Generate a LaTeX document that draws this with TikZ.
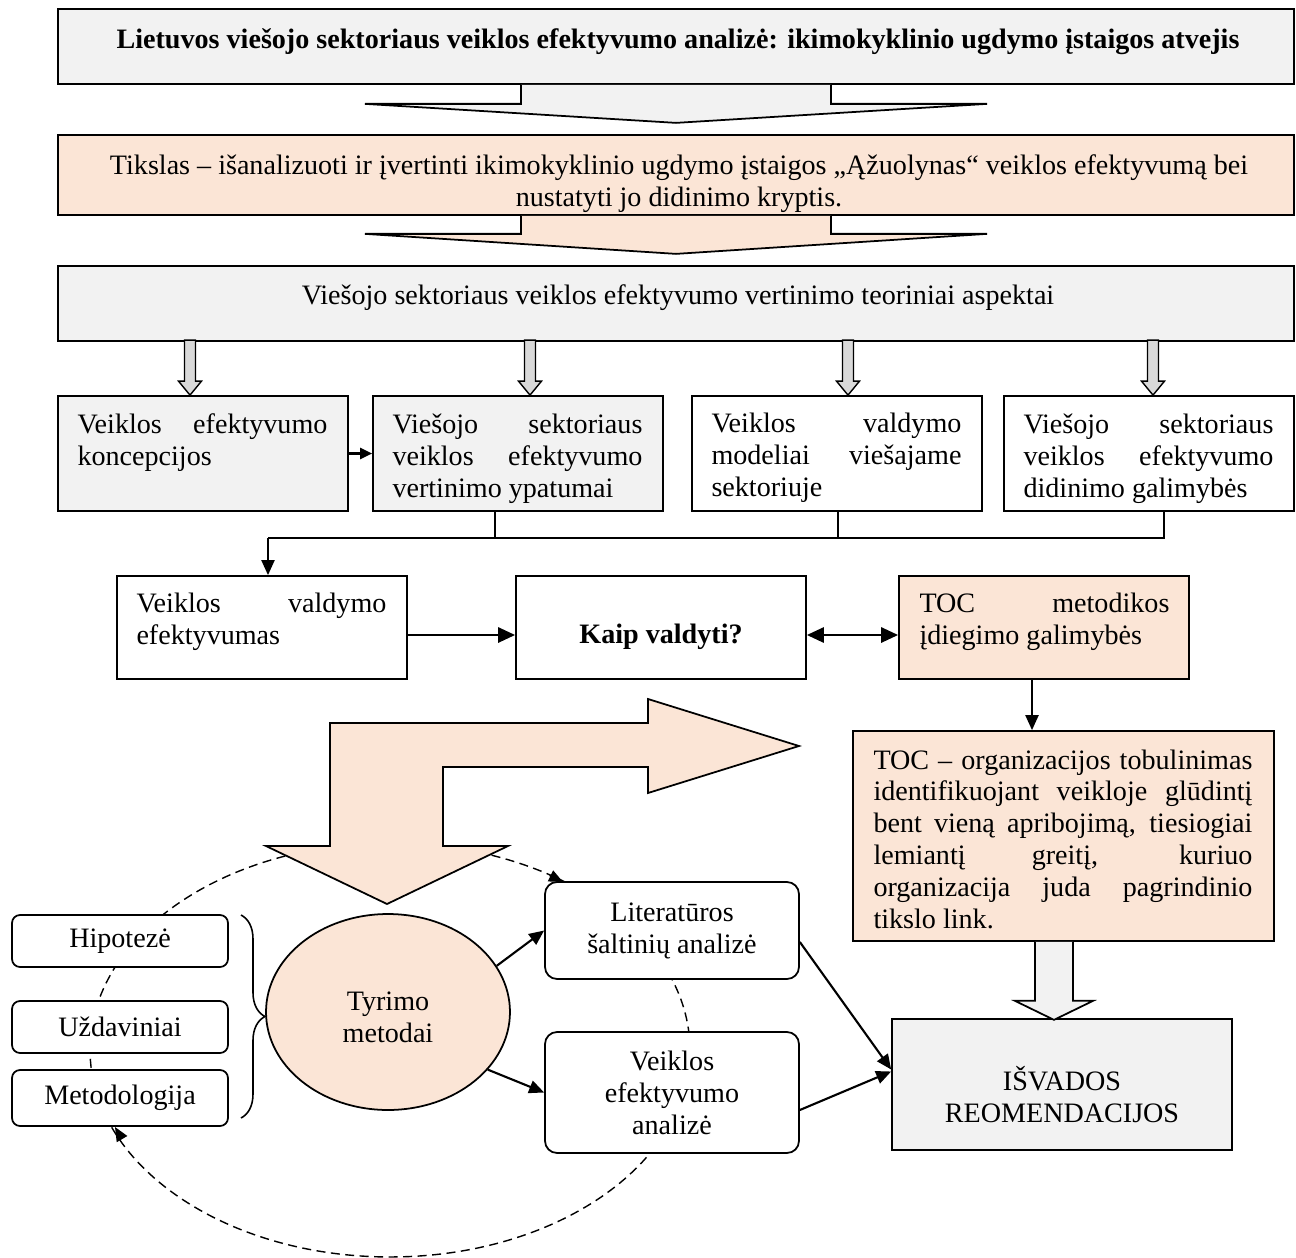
\documentclass[tikz,border=0pt]{standalone}
\usepackage{fontspec}
\setmainfont{Liberation Serif}
\usetikzlibrary{arrows.meta,calc,shapes.geometric,decorations.pathreplacing}
\definecolor{peach}{HTML}{FBE5D6}
\definecolor{lgrey}{HTML}{F2F2F2}
\definecolor{mgrey}{HTML}{D9D9D9}
\begin{document}
\fontsize{16pt}{18.2pt}\selectfont
\begin{tikzpicture}[x=0.02cm,y=-0.02cm,
  box/.style={draw, line width=1pt, inner sep=0pt, rectangle},
  rbox/.style={box, rounded corners=0.16cm, fill=white, align=center},
  txt/.style={inner sep=0pt, align=justify, text width=5cm, anchor=north west},
  conn/.style={line width=1.2pt, -{Triangle[length=0.3cm,width=0.26cm]}},
  thickconn/.style={line width=1.6pt, -{Triangle[length=0.34cm,width=0.3cm]}},
  thinline/.style={line width=0.8pt},
  dashline/.style={line width=0.8pt, dash pattern=on 0.18cm off 0.11cm},
  blockarrow/.style={line width=1pt, line join=miter}]
\useasboundingbox (0,0) rectangle (1296,1258);

% dashed cycle (drawn first, partly hidden)
\draw[dashline] (390,1050) ellipse [x radius=6cm, y radius=4.14cm];
\coordinate (dt1) at (563,882);
\coordinate (dt2) at (115,1127);
\draw[line width=0.8pt, -{Triangle[length=0.28cm,width=0.24cm]}] (549.5,875.4) -- (dt1);
\draw[line width=0.8pt, -{Triangle[length=0.28cm,width=0.24cm]}] (122,1139) -- (dt2);

% title
\node[box, fill=lgrey, minimum width=24.72cm, minimum height=1.5cm] (title) at (676,46.5) {};
\node[inner sep=0pt, font=\bfseries] (titletxt) at (678,42) {Lietuvos viešojo sektoriaus veiklos efektyvumo analizė: ikimokyklinio ugdymo įstaigos atvejis};
\filldraw[blockarrow, fill=lgrey] ($(title.south)+(-155,0)$) -- ++(0,19) -- ++(-156,0) -- ($(title.south)+(0,38)$) -- ($(title.south)+(311,19)$) -- ++(-156,0) -- ++(0,-19);

% goal
\node[box, fill=peach, minimum width=24.72cm, minimum height=1.6cm] (goal) at (676,175) {};
\node[inner sep=0pt, align=center] (goaltxt) at (679,184) {Tikslas – išanalizuoti ir įvertinti ikimokyklinio ugdymo įstaigos „Ąžuolynas“ veiklos efektyvumą bei\\ nustatyti jo didinimo kryptis.};
\filldraw[blockarrow, fill=peach] ($(goal.south)+(-155,0)$) -- ++(0,18) -- ++(-156,0) -- ($(goal.south)+(0,38)$) -- ($(goal.south)+(311,18)$) -- ++(-156,0) -- ++(0,-18);

% theory
\node[box, fill=lgrey, minimum width=24.72cm, minimum height=1.5cm] (theory) at (676,303.5) {};
\node[inner sep=0pt] (theorytxt) at (678,298) {Viešojo sektoriaus veiklos efektyvumo vertinimo teoriniai aspektai};

% four boxes
\node[box, fill=lgrey, minimum width=5.8cm, minimum height=2.3cm] (b1) at (203,453.5) {};
\node[box, fill=lgrey, minimum width=5.8cm, minimum height=2.3cm] (b2) at (518,453.5) {};
\node[box, fill=white, minimum width=5.8cm, minimum height=2.3cm] (b3) at (837,453.5) {};
\node[box, fill=white, minimum width=5.8cm, minimum height=2.3cm] (b4) at (1149,453.5) {};
\node[txt] (t1) at ($(b1.north west)+(20,18)$) {Veiklos efektyvumo\linebreak koncepcijos};
\node[txt] (t2) at ($(b2.north west)+(20,18)$) {Viešojo sektoriaus\linebreak veiklos efektyvumo\linebreak vertinimo ypatumai};
\node[txt] (t3) at ($(b3.north west)+(20,18)$) {Veiklos valdymo\linebreak modeliai viešajame\linebreak sektoriuje};
\node[txt] (t4) at ($(b4.north west)+(20,18)$) {Viešojo sektoriaus\linebreak veiklos efektyvumo\linebreak didinimo galimybės};

\foreach \bx/\dx in {b1/-13,b2/12,b3/11,b4/4}{
  \filldraw[fill=mgrey, line width=0.8pt] ($(\bx.north)+(\dx,0)$) -- ++(-11.5,-14) -- ++(6,0) -- ++(0,-41) -- ++(11,0) -- ++(0,41) -- ++(6,0) -- cycle;
}
\draw[line width=1.2pt, -{Triangle[length=0.24cm,width=0.22cm]}] (b1.east) -- (b2.west);

% row 3
\node[box, fill=white, minimum width=5.8cm, minimum height=2.06cm] (A) at (262,627.5) {};
\node[box, fill=white, minimum width=5.8cm, minimum height=2.06cm] (B) at (661,627.5) {};
\node[box, fill=peach, minimum width=5.8cm, minimum height=2.06cm] (C) at (1044,627.5) {};
\node[txt] (tA) at ($(A.north west)+(20,18)$) {Veiklos valdymo\linebreak efektyvumas};
\node[inner sep=0pt, font=\bfseries] (tB) at ($(B.center)+(0,9)$) {Kaip valdyti?};
\node[txt] (tC) at ($(C.north west)+(21,18)$) {TOC metodikos\linebreak įdiegimo galimybės};

\coordinate (j2) at ($(b2.south)+(-23,0)$);
\coordinate (j3) at ($(b3.south)+(1,0)$);
\coordinate (j4) at ($(b4.south)+(15,0)$);
\coordinate (jl) at (268,538);
\draw[thinline] (j2) -- (j2 |- jl);
\draw[thinline] (j3) -- (j3 |- jl);
\draw[thinline] (j4) -- (j4 |- jl) -- (jl);
\draw[conn] (jl) -- (jl |- A.north);

\draw[thickconn] ($(A.east)+(0,7.5)$) -- ($(B.west)+(0,7.5)$);
\draw[line width=1.6pt, {Triangle[length=0.34cm,width=0.3cm]}-{Triangle[length=0.34cm,width=0.3cm]}] ($(B.east)+(0,7.5)$) -- ($(C.west)+(0,7.5)$);

% TOC box
\node[box, fill=peach, minimum width=8.42cm, minimum height=4.2cm] (toc) at (1063.5,836) {};
\node[txt, text width=7.58cm] (toctxt) at ($(toc.north west)+(21,19)$) {TOC – organizacijos tobulinimas\linebreak identifikuojant veikloje glūdintį\linebreak bent vieną apribojimą, tiesiogiai\linebreak lemiantį greitį, kuriuo\linebreak organizacija juda pagrindinio\linebreak tikslo link.};
\coordinate (ct) at ($(C.south)+(-12,0)$);
\draw[conn] (ct) -- (ct |- toc.north);

% conclusions
\node[box, fill=lgrey, minimum width=6.8cm, minimum height=2.62cm] (isv) at (1062,1084.5) {};
\node[inner sep=0pt, align=center] (isvtxt) at (1062,1095) {IŠVADOS\\ REOMENDACIJOS};
\coordinate (ta) at ($(toc.south)+(-9.5,0)$);
\filldraw[blockarrow, fill=lgrey] ($(ta)+(-19,0)$) -- ++(0,59) -- ++(-20,0) -- ($(ta)+(0,78)$) -- ($(ta)+(39,59)$) -- ++(-20,0) -- ++(0,-59);

% bent arrow
\filldraw[blockarrow, fill=peach] (330,846) -- (266,846) -- (387,904) -- (508,846) -- (443,846) -- (443,767) -- (648,767) -- (648,793) -- (799,746) -- (648,699) -- (648,723) -- (330,723) -- cycle;

% research methods
\node[ellipse, draw, fill=peach, line width=1pt, minimum width=4.88cm, minimum height=3.92cm, inner sep=0pt] (tyr) at (388,1012) {};
\node[inner sep=0pt, align=center] (tyrtxt) at (388,1017) {Tyrimo\\ metodai};

\node[rbox, minimum width=4.32cm, minimum height=1.04cm] (hip) at (120,941) {Hipotezė};
\node[rbox, minimum width=4.32cm, minimum height=1.04cm] (uzd) at (120,1027) {Uždaviniai};
\node[rbox, minimum width=4.32cm, minimum height=1.12cm] (met) at (120,1098) {Metodologija};
\draw[line width=0.9pt, decorate, decoration={brace, amplitude=0.48cm}] (241,915) -- (241,1118);

\node[rbox, rounded corners=0.24cm, minimum width=5.08cm, minimum height=1.94cm] (lit) at (672,930.5) {Literatūros\\ šaltinių analizė};
\node[rbox, rounded corners=0.24cm, minimum width=5.08cm, minimum height=2.42cm] (vea) at (672,1092.5) {Veiklos\\ efektyvumo\\ analizė};

\draw[conn] (tyr.23) -- (lit.west);
\draw[conn] (tyr.-30) -- (vea.west);
\draw[conn] ($(lit.east)+(0,11.5)$) -- ($(isv.west)+(0,-15)$);
\draw[conn] ($(vea.east)+(0,17.5)$) -- ($(isv.west)+(0,-13)$);
\end{tikzpicture}
\end{document}
